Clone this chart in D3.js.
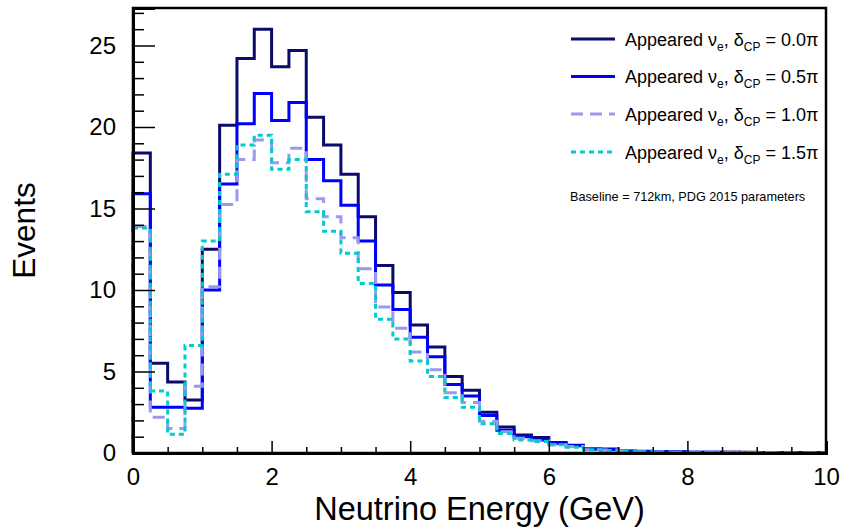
<!DOCTYPE html>
<html>
<head>
<meta charset="utf-8">
<script src="https://cdn.jsdelivr.net/npm/d3@7"></script>
<style>
  body { margin: 0; background: #fff; }
  svg { display: block; font-family: "Liberation Sans", Arial, sans-serif; }
</style>
</head>
<body>
<svg id="chart" width="843" height="529"></svg>
<script>
// bins of 0.25 GeV from 0 to 10
var binEdges = d3.range(0, 10.0001, 0.25);

var dcp00 = [18.4, 5.5, 4.35, 3.25, 12.5, 20.1, 24.2, 26.0, 23.7, 24.7,
             20.6, 18.9, 17.1, 14.5, 11.5, 9.85, 7.85, 6.5, 4.7, 3.85,
             2.5, 1.6, 1.1, 0.95, 0.65, 0.48, 0.25, 0.25, 0.12, 0.1,
             0.08, 0.07, 0.05, 0.05, 0.04, 0.04, 0.03, 0.03, 0.03, 0.02];
var dcp05 = [15.9, 2.8, 2.8, 2.75, 10.0, 16.5, 20.2, 22.05, 20.4, 21.5,
             18.0, 16.7, 15.2, 13.0, 10.3, 8.8, 7.1, 5.9, 4.2, 3.5,
             2.3, 1.4, 1.0, 0.8, 0.6, 0.45, 0.25, 0.2, 0.1, 0.09,
             0.07, 0.06, 0.05, 0.04, 0.04, 0.03, 0.03, 0.03, 0.02, 0.02];
var dcp10 = [13.9, 2.2, 1.5, 4.1, 10.2, 15.25, 18.0, 19.2, 17.8, 18.7,
             15.6, 14.5, 13.2, 11.3, 8.95, 7.65, 6.2, 5.1, 3.7, 3.1,
             1.95, 1.3, 0.9, 0.75, 0.5, 0.4, 0.2, 0.18, 0.1, 0.08,
             0.06, 0.05, 0.05, 0.04, 0.03, 0.03, 0.03, 0.02, 0.02, 0.02];
var dcp15 = [13.8, 3.8, 1.15, 6.6, 13.0, 17.1, 18.9, 19.5, 17.4, 18.0,
             14.8, 13.6, 12.25, 10.4, 8.2, 7.0, 5.65, 4.7, 3.4, 2.8,
             1.8, 1.2, 0.8, 0.7, 0.5, 0.35, 0.2, 0.15, 0.09, 0.07,
             0.06, 0.05, 0.04, 0.04, 0.03, 0.03, 0.02, 0.02, 0.02, 0.02];

var seriesNames = ["0.0", "0.5", "1.0", "1.5"];
var seriesValues = [dcp00, dcp05, dcp10, dcp15];
var seriesColors = ["#0b0b6b", "#0000ff", "#9999f2", "#00cccc"];
var seriesDash = [null, null, "12,7", "5,4"];

var xTicks = [0, 2, 4, 6, 8, 10];
var yTicks = [0, 5, 10, 15, 20, 25];

var padL = 133, padR = 826, padT = 8, padB = 453;

var svg = d3.select("#chart");

var x = d3.scaleLinear().domain([0, 10]).range([padL, padR]);
var y = d3.scaleLinear().domain([0, 27.3]).range([padB, padT]);

// histogram outlines, ROOT style
var line = d3.line().x(d => x(d[0])).y(d => y(d[1]));

function stepPoints(vals) {
    var pts = [[0, 0]];
    vals.forEach(function (v, i) {
        pts.push([binEdges[i], v]);
        pts.push([binEdges[i + 1], v]);
    });
    pts.push([10, 0]);
    return pts;
}

svg.append("g").selectAll("path")
    .data(seriesValues)
    .enter()
    .append("path")
    .attr("d", d => line(stepPoints(d)))
    .attr("fill", "none")
    .attr("stroke", (d, i) => seriesColors[i])
    .attr("stroke-width", 3)
    .attr("stroke-dasharray", (d, i) => seriesDash[i]);

// frame
svg.append("rect")
    .attr("x", padL).attr("y", padT)
    .attr("width", padR - padL).attr("height", padB - padT)
    .attr("fill", "none")
    .attr("stroke", "black")
    .attr("stroke-width", 2.5);

// x axis ticks (inward)
var xAxis = d3.axisBottom(x).tickValues(xTicks).tickSize(-12).tickPadding(15)
    .tickFormat(d3.format("d"));
var gx = svg.append("g").attr("transform", "translate(0," + padB + ")").call(xAxis);
gx.select(".domain").attr("stroke-width", 3);
gx.selectAll(".tick line").attr("stroke-width", 1.5);
gx.selectAll("text").style("font-size", "24px").attr("fill", "black");

var xMinor = d3.axisBottom(x).tickValues(d3.range(0.5, 10, 0.5).filter(v => v % 2 !== 0))
    .tickSize(-6).tickFormat("");
var gxm = svg.append("g").attr("transform", "translate(0," + padB + ")").call(xMinor);
gxm.select(".domain").remove();
gxm.selectAll(".tick line").attr("stroke-width", 1.5);

// y axis ticks (inward)
var yAxis = d3.axisLeft(y).tickValues(yTicks).tickSize(-22).tickPadding(17)
    .tickFormat(d3.format("d"));
var gy = svg.append("g").attr("transform", "translate(" + padL + ",0)").call(yAxis);
gy.select(".domain").attr("stroke-width", 3);
gy.selectAll(".tick line").attr("stroke-width", 1.5);
gy.selectAll("text").style("font-size", "24px").attr("fill", "black");

var yMinor = d3.axisLeft(y).tickValues(d3.range(1, 27.3, 1).filter(v => v % 5 !== 0))
    .tickSize(-11).tickFormat("");
var gym = svg.append("g").attr("transform", "translate(" + padL + ",0)").call(yMinor);
gym.select(".domain").remove();
gym.selectAll(".tick line").attr("stroke-width", 1.5);

// axis titles
svg.append("text")
    .attr("x", (padL + padR) / 2).attr("y", 520)
    .attr("text-anchor", "middle")
    .style("font-size", "32.5px")
    .text("Neutrino Energy (GeV)");

svg.append("text")
    .attr("transform", "translate(35," + (padT + padB) / 2 + ") rotate(-90)")
    .attr("text-anchor", "middle")
    .style("font-size", "31.5px")
    .text("Events");

// legend
var legend = svg.append("g");
var rowY = [39, 76.5, 114, 152];

seriesNames.forEach(function (name, i) {
    legend.append("line")
        .attr("x1", 571).attr("x2", 615)
        .attr("y1", rowY[i]).attr("y2", rowY[i])
        .attr("stroke", seriesColors[i])
        .attr("stroke-width", 3)
        .attr("stroke-dasharray", seriesDash[i]);

    var t = legend.append("text")
        .attr("x", 625).attr("y", rowY[i] + 6.5)
        .style("font-size", "18px");
    t.append("tspan").text("Appeared \u03bd");
    t.append("tspan").attr("dy", 5).style("font-size", "12px").text("e");
    t.append("tspan").attr("dy", -5).text(", \u03b4");
    t.append("tspan").attr("dy", 5).style("font-size", "12px").text("CP");
    t.append("tspan").attr("dy", -5).text(" = " + name + "\u03c0");
});

legend.append("text")
    .attr("x", 570).attr("y", 201)
    .style("font-size", "12.7px")
    .text("Baseline = 712km, PDG 2015 parameters");
</script>
</body>
</html>
